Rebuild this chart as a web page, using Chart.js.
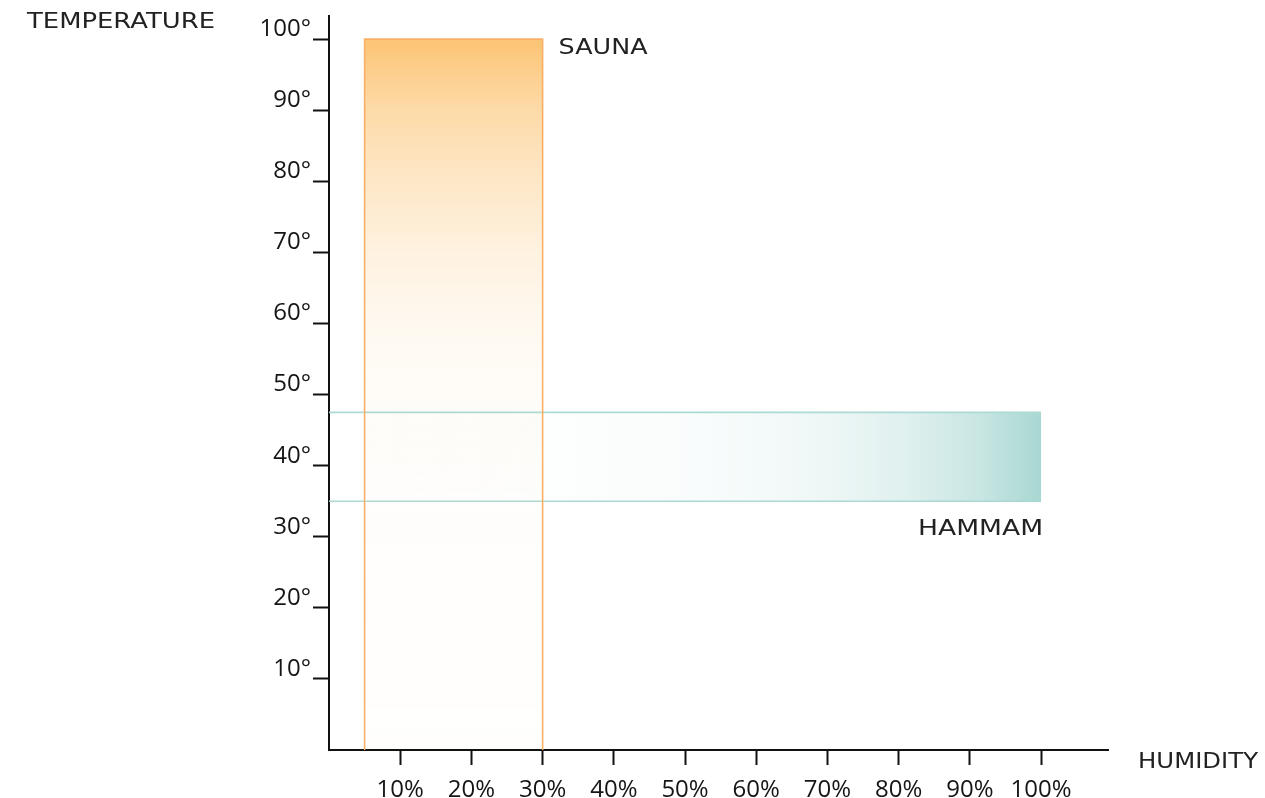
<!DOCTYPE html>
<html>
<head>
<meta charset="utf-8">
<script src="https://cdn.jsdelivr.net/npm/chart.js@4/dist/chart.umd.min.js"></script>
<style>
  html, body { margin: 0; padding: 0; background: #fff; }
  #wrap { width: 1265px; height: 798px; }
</style>
</head>
<body>
<div id="wrap"><canvas id="myChart" width="1265" height="798"></canvas></div>
<script>
// humidity (%) / temperature (deg) of the two zones
const saunaHumidity = [5, 5, 30, 30];
const saunaTemp = [0, 100, 100, 0];
const hammamHumidity = [0, 100];
const hammamTop = [47.5, 47.5];
const hammamBottom = [35, 35];

const xTicks = [10, 20, 30, 40, 50, 60, 70, 80, 90, 100];
const yTicks = [10, 20, 30, 40, 50, 60, 70, 80, 90, 100];
const xTickLabels = ['10%', '20%', '30%', '40%', '50%', '60%', '70%', '80%', '90%', '100%'];
const yTickLabels = ['10°', '20°', '30°', '40°', '50°', '60°', '70°', '80°', '90°', '100°'];

const toPoints = (xs, ys) => xs.map((x, i) => ({ x: x, y: ys[i] }));

const saunaFill = (ctx) => {
    const c = ctx.chart;
    if (!c.chartArea) return 'rgba(252,196,110,0.3)';
    const y = c.scales.y;
    const g = c.ctx.createLinearGradient(0, y.getPixelForValue(100), 0, y.getPixelForValue(0));
    g.addColorStop(0, 'rgba(252,194,112,0.97)');
    g.addColorStop(0.1, 'rgba(252,196,115,0.62)');
    g.addColorStop(0.2, 'rgba(252,196,115,0.4)');
    g.addColorStop(0.3, 'rgba(252,196,115,0.22)');
    g.addColorStop(0.4, 'rgba(252,196,115,0.11)');
    g.addColorStop(0.5, 'rgba(252,196,115,0.05)');
    g.addColorStop(0.65, 'rgba(252,196,115,0.025)');
    g.addColorStop(1, 'rgba(252,196,115,0.01)');
    return g;
};

const hammamFill = (ctx) => {
    const c = ctx.chart;
    if (!c.chartArea) return 'rgba(159,213,207,0.3)';
    const x = c.scales.x;
    const g = c.ctx.createLinearGradient(x.getPixelForValue(0), 0, x.getPixelForValue(100), 0);
    g.addColorStop(0, 'rgba(164,213,208,0)');
    g.addColorStop(0.3, 'rgba(164,213,208,0.02)');
    g.addColorStop(0.5, 'rgba(164,213,208,0.06)');
    g.addColorStop(0.67, 'rgba(164,213,208,0.16)');
    g.addColorStop(0.81, 'rgba(164,213,208,0.35)');
    g.addColorStop(0.92, 'rgba(164,213,208,0.62)');
    g.addColorStop(1, 'rgba(164,213,208,0.95)');
    return g;
};

// draw text stretched horizontally to a given width
function fitText(ctx, text, x, y, width, align) {
    const w = ctx.measureText(text).width;
    const sx = width / w;
    const left = align === 'right' ? x - width : x;
    ctx.save();
    ctx.translate(left, y);
    ctx.scale(sx, 1);
    ctx.textAlign = 'left';
    ctx.fillText(text, 0, 0);
    ctx.restore();
}

const labelsPlugin = {
    id: 'labels',
    afterDraw(chart) {
        const ctx = chart.ctx;
        const x = chart.scales.x, y = chart.scales.y;
        ctx.save();
        ctx.fillStyle = '#222';
        ctx.font = '21px "DejaVu Sans"';
        ctx.textBaseline = 'middle';
        fitText(ctx, 'SAUNA', x.getPixelForValue(30) + 16, y.getPixelForValue(100) + 9, 89);
        fitText(ctx, 'HAMMAM', x.getPixelForValue(100) + 2, y.getPixelForValue(35) + 28, 125, 'right');
        fitText(ctx, 'TEMPERATURE', 27, 23, 188);
        fitText(ctx, 'HUMIDITY', 1138, 763, 120);
        ctx.restore();
    }
};

new Chart(document.getElementById('myChart'), {
    type: 'line',
    data: {
        datasets: [
            {
                label: 'Sauna',
                data: toPoints(saunaHumidity, saunaTemp),
                borderColor: 'rgb(249,176,102)',
                borderWidth: 1.6,
                backgroundColor: saunaFill,
                fill: 'origin',
                pointRadius: 0,
                tension: 0
            },
            {
                label: 'Hammam',
                data: toPoints(hammamHumidity, hammamTop),
                borderColor: 'rgb(172,218,212)',
                borderWidth: 1.6,
                backgroundColor: hammamFill,
                fill: '+1',
                pointRadius: 0,
                tension: 0
            },
            {
                label: 'Hammam bottom',
                data: toPoints(hammamHumidity, hammamBottom),
                borderColor: 'rgb(172,218,212)',
                borderWidth: 1.6,
                fill: false,
                pointRadius: 0,
                tension: 0
            }
        ]
    },
    options: {
        responsive: false,
        animation: false,
        devicePixelRatio: 1,
        layout: { padding: { top: 12, right: 157, left: 0, bottom: 0 } },
        plugins: {
            legend: { display: false },
            tooltip: { enabled: false }
        },
        scales: {
            x: {
                type: 'linear',
                min: 0,
                max: 109.4,
                afterBuildTicks: (s) => { s.ticks = xTicks.map(v => ({ value: v })); },
                afterFit: (s) => { s.height = 48; },
                border: { color: '#111', width: 2 },
                grid: { drawOnChartArea: false, drawTicks: true, tickLength: 15, tickColor: '#111', tickWidth: 2 },
                ticks: {
                    padding: 11,
                    color: '#151515',
                    font: { family: 'Open Sans', size: 24 },
                    maxRotation: 0,
                    autoSkip: false,
                    callback: (v) => xTickLabels[xTicks.indexOf(v)]
                }
            },
            y: {
                type: 'linear',
                min: 0,
                max: 103.2,
                afterBuildTicks: (s) => { s.ticks = yTicks.map(v => ({ value: v })); },
                afterFit: (s) => { s.width = 329; },
                border: { color: '#111', width: 2 },
                grid: { drawOnChartArea: false, drawTicks: true, tickLength: 16, tickColor: '#111', tickWidth: 2 },
                ticks: {
                    padding: 2,
                    labelOffset: -10,
                    color: '#151515',
                    font: { family: 'Open Sans', size: 24 },
                    autoSkip: false,
                    callback: (v) => yTickLabels[yTicks.indexOf(v)]
                }
            }
        }
    },
    plugins: [labelsPlugin]
});
</script>
</body>
</html>
